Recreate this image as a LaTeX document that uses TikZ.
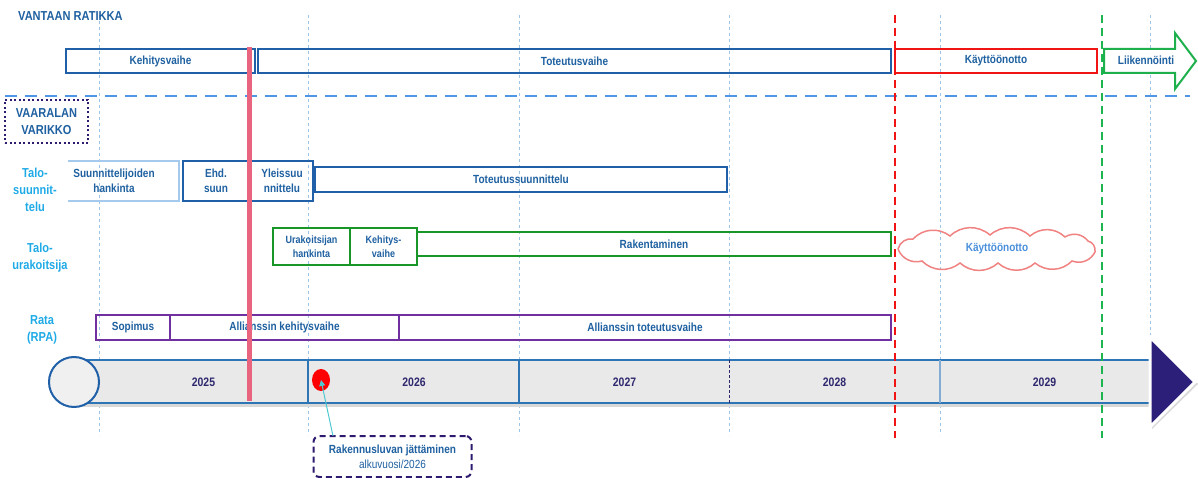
\documentclass[tikz,border=0pt]{standalone}
\usepackage{fontspec}
\setmainfont{Liberation Sans}[FakeStretch=0.85]
\usetikzlibrary{shapes.symbols,shapes.geometric,arrows.meta}
\definecolor{tblue}{RGB}{30,96,160}
\definecolor{bblue}{RGB}{32,96,168}
\definecolor{lblue}{RGB}{165,202,238}
\definecolor{gridc}{RGB}{157,195,230}
\definecolor{hdashc}{RGB}{80,150,230}
\definecolor{vpurp}{RGB}{46,26,110}
\definecolor{cyanl}{RGB}{30,170,230}
\definecolor{pinkl}{RGB}{232,100,127}
\definecolor{gbox}{RGB}{24,150,40}
\definecolor{garrow}{RGB}{30,176,76}
\definecolor{rpurp}{RGB}{112,48,160}
\definecolor{barfill}{RGB}{233,233,233}
\definecolor{barline}{RGB}{46,117,182}
\definecolor{navy}{RGB}{43,31,122}
\definecolor{yearc}{RGB}{46,40,110}
\definecolor{cloudc}{RGB}{240,130,130}
\definecolor{cloudt}{RGB}{74,143,219}
\definecolor{callc}{RGB}{79,201,208}
\definecolor{reddash}{RGB}{240,20,20}
\definecolor{greendash}{RGB}{30,180,80}
\begin{document}
\begin{tikzpicture}[x=1pt,y=-1pt,
  lbl/.style={font=\bfseries\fontsize{11.8}{15}\selectfont, text=tblue, align=center, inner sep=0},
  bx/.style={lbl, draw=bblue, line width=2, minimum height=24},
  bxtall/.style={bx, minimum height=40},
  gb/.style={lbl, draw=gbox, line width=2, minimum height=37, font=\bfseries\fontsize{10.6}{14}\selectfont},
  pb/.style={lbl, draw=rpurp, line width=2, minimum height=25},
  rowl/.style={font=\bfseries\fontsize{13}{17}\selectfont, text=cyanl, align=center, inner sep=0},
  yr/.style={font=\bfseries\fontsize{12.3}{13}\selectfont, text=yearc, inner sep=0},
  gridl/.style={gridc, line width=0.8, dash pattern=on 3 off 3},
  vline/.style={line width=2, dash pattern=on 8 off 5},
  puff/.style={bend left=42}
]
\useasboundingbox (0,0) rectangle (1198,478);

% grid lines
\foreach \x in {99,308,519,729,940} \draw[gridl] (\x,15) -- (\x,435);
\draw[gridl] (1150,15) -- (1150,335);

% horizontal dashed separator
\draw[hdashc, line width=2.5, dash pattern=on 12 off 8] (5,96) -- (1190,96);

% title
\node[anchor=west, font=\bfseries\fontsize{13}{15}\selectfont, text=tblue, inner sep=0] (title) at (18,16) {VANTAAN RATIKKA};

% top row
\node[bx, minimum width=189] (keh) at (160.5,61) {Kehitysvaihe};
\node[bx, minimum width=633] (tot) at (574.5,61) {Toteutusvaihe};
\node[bx, draw=reddash, minimum width=202] (kay) at (996,61) {Käyttöönotto};
\draw[garrow, line width=2, fill=white] (1104,49) -- (1175,49) -- (1175,33) -- (1196,61) -- (1175,89) -- (1175,73) -- (1104,73) -- cycle;
\node[lbl] (liik) at (1146,60) {Liikennöinti};

% varikko
\node[lbl, font=\bfseries\fontsize{13}{17}\selectfont, draw=vpurp, line width=2, dash pattern=on 2 off 2.5, minimum width=83, minimum height=43] (var) at (46.5,121.5) {VAARALAN\\VARIKKO};

% row labels
\node[rowl] (l1) at (35,190) {Talo-\\suunnit-\\telu};
\node[rowl] (l2) at (40,257.5) {Talo-\\urakoitsija};
\node[rowl] (l3) at (42,330) {Rata\\(RPA)};

% talosuunnittelu
\node[lbl, minimum width=130, minimum height=40] (suun) at (114,181) {Suunnittelijoiden\\hankinta};
\draw[lblue, line width=2] ([xshift=19]suun.north west) -- (suun.north east) -- (suun.south east) -- ([xshift=19]suun.south west);
\node[bxtall, minimum width=66] (ehd) at (216,181) {Ehd.\\suun};
\node[bxtall, minimum width=62] (yle) at (282,181) {Yleissuu\\nnittelu};
\node[bx, minimum width=412, minimum height=25] (tsu) at (521,179.5) {Toteutussuunnittelu};

% talourakoitsija
\node[gb, minimum width=77] (ura) at (311.5,246.5) {Urakoitsijan\\hankinta};
\node[gb, minimum width=67] (kv) at (383.5,246.5) {Kehitys-\\vaihe};
\node[gb, minimum width=474, minimum height=24, font=\bfseries\fontsize{11.8}{14}\selectfont] (rak) at (654,244) {Rakentaminen};

% cloud
\draw[cloudc, line width=1.5] (898,249) to[puff] (913,239) to[puff] (950,236) to[puff] (990,235)
  to[puff] (1030,236) to[puff] (1065,237) to[puff] (1088,241) to[puff] (1095,252)
  to[puff] (1072,261) to[puff] (1035,263) to[puff] (998,263) to[puff] (960,263)
  to[puff] (922,261) to[puff] (898,249);
\node[lbl, text=cloudt] (cl) at (997,249) {Käyttöönotto};

% rata
\node[pb, minimum width=74] (sop) at (133,327.5) {Sopimus};
\node[pb, minimum width=229] (akv) at (284.5,327.5) {Allianssin kehitysvaihe};
\node[pb, minimum width=492] (atv) at (645,327.5) {Allianssin toteutusvaihe};

% timeline bar
\fill[gray!30] (80,404) rectangle (1150,407);
\node[fill=barfill, minimum width=1076, minimum height=43, inner sep=0] (bar) at (612,381.5) {};
\draw[barline, line width=1.5] (bar.north west) -- (bar.north east);
\draw[barline, line width=1.5] (bar.south west) -- (bar.south east);
\draw[barline, line width=1.2] (308,360) -- (308,403);
\draw[barline, line width=1.2] (519,360) -- (519,403);
\draw[yearc, line width=1, dash pattern=on 3 off 2] (729,360) -- (729,403);
\draw[barline!60, line width=1.2] (940,360) -- (940,403);
\node[yr] (y25) at (203.5,382) {2025};
\node[yr] (y26) at (414,382) {2026};
\node[yr] (y27) at (624.5,382) {2027};
\node[yr] (y28) at (834.5,382) {2028};
\node[yr] (y29) at (1044.5,382) {2029};

% arrow head
\fill[gray!30] (1152,339) -- (1198,384) -- (1152,429) -- cycle;
\filldraw[fill=navy, draw=white, line width=3] (1150,337) -- (1195,382) -- (1150,427) -- cycle;

% start circle
\node[circle, draw=bblue, fill=gray!12, line width=2, minimum size=50, inner sep=0] (circ) at (74,382) {};

% red dot
\node[ellipse, fill=red, minimum width=18, minimum height=22, inner sep=0] (dot) at (321,380) {};

% pink today line
\draw[pinkl, line width=5] (249,47) -- (249,401);

% red and green dashed lines
\draw[reddash, vline] (895,15) -- (895,438);
\draw[greendash, vline] (1102,15) -- (1102,438);

% callout
\node[draw=vpurp, line width=2, dash pattern=on 6 off 4, rounded corners=6, minimum width=158, minimum height=41, inner sep=0, align=center, text=tblue, font=\fontsize{11.8}{15}\selectfont] (call) at (392.5,456.5) {{\bfseries Rakennusluvan jättäminen}\\alkuvuosi/2026};
\coordinate (cs) at (333,436);
\draw[callc, line width=1, -{Triangle[length=6,width=6]}] (cs) -- (dot.center);
\end{tikzpicture}
\end{document}
